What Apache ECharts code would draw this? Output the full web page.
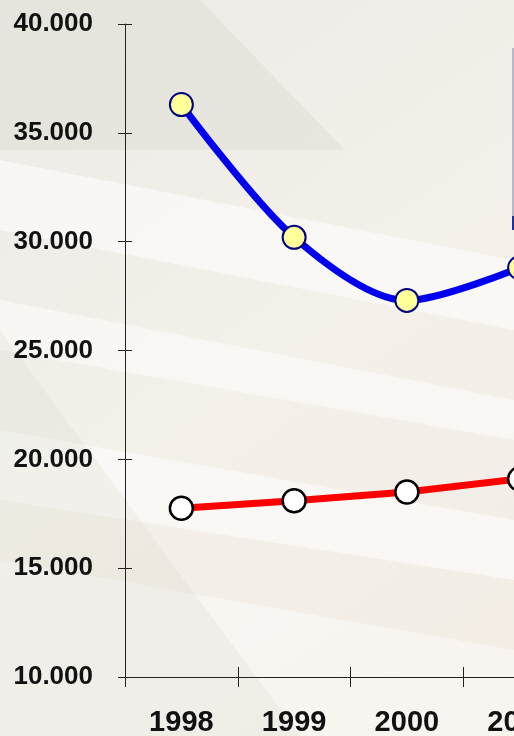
<!DOCTYPE html>
<html><head><meta charset="utf-8">
<script src="https://cdn.jsdelivr.net/npm/echarts@6/dist/echarts.min.js"></script>
<style>html,body{margin:0;padding:0;background:#f2eee8;}#c{width:514px;height:736px;}</style>
</head><body><div id="c"></div>
<script>
const categories = ['1998', '1999', '2000', '2001'];
const blueValues = [36300, 30200, 27300, 28800];
const redValues = [17750, 18100, 18500, 19100];

const chart = echarts.init(document.getElementById('c'));
const fmt = v => (v / 1000).toFixed(3);
const labelFont = { fontFamily: 'Liberation Sans, Arial, sans-serif', fontWeight: 'bold', color: '#111' };

chart.setOption({
  backgroundColor: {
    type: 'linear', x: 0, y: 0, x2: 1, y2: 1,
    colorStops: [{ offset: 0, color: '#ecebe6' }, { offset: 0.5, color: '#f4f0ea' }, { offset: 1, color: '#f2ece4' }]
  },
  graphic: [
    { type: 'polygon', z: -10, shape: { points: [[0, 0], [200, 0], [345, 150], [0, 150]] }, style: { fill: 'rgba(222,222,212,0.5)' } },
    { type: 'polygon', z: -10, shape: { points: [[0, 160], [514, 260], [514, 330], [0, 230]] }, style: { fill: 'rgba(255,255,255,0.55)' } },
    { type: 'polygon', z: -10, shape: { points: [[0, 300], [514, 400], [514, 440], [0, 350]] }, style: { fill: 'rgba(255,255,255,0.5)' } },
    { type: 'polygon', z: -10, shape: { points: [[0, 430], [514, 520], [514, 580], [0, 500]] }, style: { fill: 'rgba(255,255,255,0.55)' } },
    { type: 'polygon', z: -10, shape: { points: [[0, 560], [514, 650], [514, 736], [0, 736]] }, style: { fill: 'rgba(255,255,255,0.45)' } },
    { type: 'polygon', z: -10, shape: { points: [[0, 330], [140, 520], [300, 736], [0, 736]] }, style: { fill: 'rgba(215,215,205,0.25)' } },
    { type: 'line', shape: { x1: 513, y1: 48, x2: 513, y2: 216 }, style: { stroke: '#b8b8c8', lineWidth: 2 } },
    { type: 'line', shape: { x1: 513, y1: 216, x2: 513, y2: 230 }, style: { stroke: '#2030a0', lineWidth: 2 } }
  ],
  grid: { left: 125, width: 451, top: 24, height: 653, containLabel: false, outerBoundsMode: 'none' },
  xAxis: [{
    type: 'category', data: categories, boundaryGap: true,
    axisLine: { lineStyle: { color: '#222', width: 1 } },
    axisTick: { show: true, length: 10, lineStyle: { color: '#222' } },
    axisLabel: Object.assign({ fontSize: 29, margin: 31 }, labelFont),
    splitLine: { show: false }
  }, {
    type: 'category', data: categories, boundaryGap: true, position: 'bottom',
    axisLine: { show: false },
    axisTick: { show: true, inside: true, length: 10, lineStyle: { color: '#222' } },
    axisLabel: { show: false },
    splitLine: { show: false }
  }],
  yAxis: [{
    type: 'value', min: 10000, max: 40000, interval: 5000,
    axisLine: { show: true, lineStyle: { color: '#222', width: 1 } },
    axisTick: { show: true, length: 7, lineStyle: { color: '#222' } },
    axisLabel: Object.assign({ fontSize: 26, margin: 32, formatter: fmt }, labelFont),
    splitLine: { show: false }
  }, {
    type: 'value', min: 10000, max: 40000, interval: 5000, position: 'left',
    axisLine: { show: false },
    axisTick: { show: true, inside: true, length: 7, lineStyle: { color: '#222' } },
    axisLabel: { show: false },
    splitLine: { show: false }
  }],
  series: [{
    type: 'line', data: blueValues, smooth: 0.3,
    lineStyle: { color: '#0000ee', width: 7 },
    symbol: 'circle', symbolSize: 23,
    itemStyle: { color: '#ffff99', borderColor: '#000080', borderWidth: 2 },
    z: 3
  }, {
    type: 'line', data: redValues,
    lineStyle: { color: '#ff0000', width: 7 },
    symbol: 'circle', symbolSize: 23,
    itemStyle: { color: '#ffffff', borderColor: '#000000', borderWidth: 2.5 },
    z: 3
  }],
  animation: false
});
</script></body></html>
